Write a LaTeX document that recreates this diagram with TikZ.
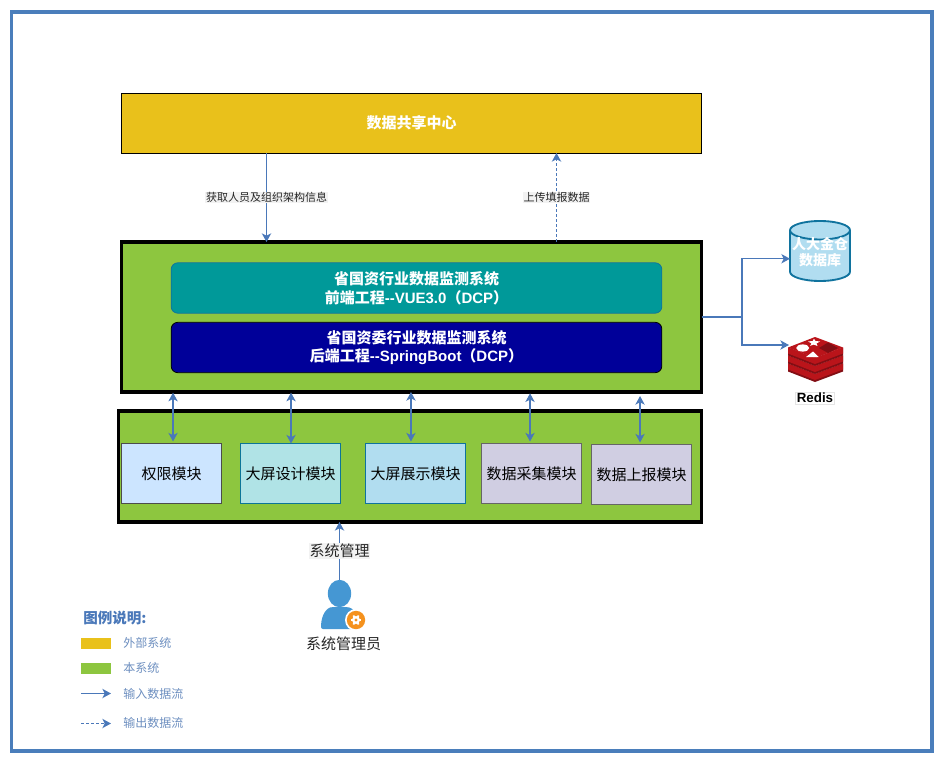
\documentclass[tikz,border=0pt]{standalone}
\usepackage{fontspec}
\setmainfont{Noto Sans CJK SC}
\newfontfamily\latinfont{Liberation Sans}
\usepackage{xcolor}
\usetikzlibrary{arrows.meta,positioning,shapes.geometric}
\definecolor{FrameBlue}{RGB}{74,126,187}
\definecolor{FlowBlue}{RGB}{74,120,185}
\definecolor{LegendBlue}{RGB}{108,142,191}
\definecolor{ExtYellow}{RGB}{233,193,27}
\definecolor{SysGreen}{RGB}{141,198,63}
\definecolor{FrontTeal}{RGB}{0,153,153}
\definecolor{BackNavy}{RGB}{0,0,153}
\definecolor{KeyBlue}{RGB}{16,115,158}
\definecolor{DbBlue}{RGB}{177,221,240}
\definecolor{PermBlue}{RGB}{204,229,255}
\definecolor{DesignCyan}{RGB}{176,227,230}
\definecolor{PurpleGray}{RGB}{208,206,226}
\definecolor{RedisRed}{RGB}{186,20,26}
\definecolor{RedisDark}{RGB}{130,14,20}
\definecolor{AdminBlue}{RGB}{69,151,211}
\definecolor{GearOrange}{RGB}{245,146,30}
\tikzset{
    sysbox/.style={draw=black,line width=2.4pt,fill=SysGreen,outer sep=0pt,minimum width=435pt},
    enginebox/.style={rounded corners=5pt,outer sep=0pt,minimum width=368pt,minimum height=37.8pt,align=center,text=white,font=\fontsize{11.25}{14}\selectfont\bfseries},
    modbox/.style={outer sep=0pt,minimum width=75pt,minimum height=45pt,font=\fontsize{11.25}{14}\selectfont},
    flowlabel/.style={fill=black!5,inner sep=0.6pt,font=\fontsize{8.25}{10}\selectfont,text=black!85},
    legendtext/.style={text=LegendBlue,inner sep=0pt,font=\fontsize{9}{11}\selectfont},
    swatch/.style={outer sep=0pt,minimum width=22.5pt,minimum height=8pt,inner sep=0pt},
    flow/.style={draw=FlowBlue,line width=0.9pt,-{Stealth[length=6.5pt,width=7pt,inset=1.8pt]}},
    biflow/.style={flow,{Stealth[length=6.5pt,width=7pt,inset=1.8pt]}-{Stealth[length=6.5pt,width=7pt,inset=1.8pt]}},
    outflow/.style={flow,dash pattern=on 2.2pt off 1.6pt}
}
\begin{document}
\begin{tikzpicture}[x=0.75pt,y=-0.75pt]
    \useasboundingbox (0,0) rectangle (943,763);
    \draw[FrameBlue,line width=2.3pt] (11.5,12) rectangle (932,751);

    \node[draw=black,line width=0.6pt,fill=ExtYellow,outer sep=0pt,minimum width=435pt,minimum height=45pt,text=white,font=\fontsize{11.25}{14}\selectfont\bfseries] (share) at (411.5,123) {数据共享中心};
    \node[sysbox,minimum height=112.5pt] (dcp) at (411.5,317) {};
    \node[enginebox,fill=FrontTeal,draw=KeyBlue,line width=0.6pt] (front) at (416.5,288) {省国资行业数据监测系统\\前端工程{\latinfont--VUE3.0}（{\latinfont DCP}）};
    \node[enginebox,fill=BackNavy,draw=black,line width=0.6pt] (back) at (416.5,347.5) {省国资委行业数据监测系统\\后端工程{\latinfont--SpringBoot}（{\latinfont DCP}）};

    \node[sysbox,minimum width=437.5pt,minimum height=83.25pt] (modules) at (410,466.5) {};
    \node[modbox,draw=black!70,fill=PermBlue] (perm) at (171.7,473.5) {权限模块};
    \node[modbox,draw=KeyBlue!80!teal,fill=DesignCyan] (design) at (290.5,473.5) {大屏设计模块};
    \node[modbox,draw=KeyBlue,fill=DbBlue] (screen) at (415.5,473.5) {大屏展示模块};
    \node[modbox,draw=black!60,fill=PurpleGray] (collect) at (531.5,473.5) {数据采集模块};
    \node[modbox,draw=black!60,fill=PurpleGray] (report) at (641.5,474.5) {数据上报模块};

    \coordinate (getx) at (266.5,0);
    \coordinate (upx) at (556.5,0);
    \draw[flow] (share.south -| getx) -- node[flowlabel] (getlabel) {获取人员及组织架构信息} (dcp.north -| getx);
    \draw[outflow] (dcp.north -| upx) -- node[flowlabel] (uplabel) {上传填报数据} (share.south -| upx);

    \draw[biflow] ([xshift=1pt,yshift=1.5pt]perm.north) -- ([xshift=1pt,yshift=-.5pt]perm.north |- dcp.south);
    \draw[biflow] ([xshift=.4pt]design.north) -- ([xshift=.4pt,yshift=-.5pt]design.north |- dcp.south);
    \draw[biflow] ([xshift=-3.4pt,yshift=1.5pt]screen.north) -- ([xshift=-3.4pt]screen.north |- dcp.south);
    \draw[biflow] ([xshift=-1.1pt,yshift=1.5pt]collect.north) -- ([xshift=-1.1pt,yshift=-1pt]collect.north |- dcp.south);
    \draw[biflow] ([xshift=-1.1pt,yshift=1.5pt]report.north) -- ([xshift=-1.1pt,yshift=-3pt]report.north |- dcp.south);

    % database and redis on the right
    \node[cylinder,shape border rotate=90,aspect=0.33,draw=KeyBlue,line width=1.4pt,fill=DbBlue,minimum width=45pt,minimum height=45pt,inner sep=0pt,outer sep=0pt,anchor=shape center,align=center,font=\fontsize{10.5}{12}\selectfont\bfseries] (kingbase) at (820,251) {\phantom{人大金仓}\\\phantom{数据库}};
    \node[align=center,inner sep=0pt,text=white,font=\fontsize{10.5}{12}\selectfont\bfseries] (kingbasetext) at (820,252) {人大金仓\\数据库};
    \coordinate (redis) at (789,345);
    \foreach \layer in {16,8,0}{
        \fill[RedisDark] (788,347.5+\layer) -- (815,358+\layer) -- (843,347.5+\layer) -- (843,355.5+\layer) -- (815,366+\layer) -- (788,355.5+\layer) -- cycle;
        \fill[RedisRed] (788,347.5+\layer) -- (815,358+\layer) -- (843,347.5+\layer) -- (843,353.5+\layer) -- (815,364+\layer) -- (788,353.5+\layer) -- cycle;
    }
    \fill[RedisRed] (815,337) -- (843,347.5) -- (815,358) -- (788,347.5) -- cycle;
    \fill[white] (802.7,348) ellipse (6.5 and 3.6);
    \fill[white] (814,338.8) -- (815.5,341) -- (820,341.5) -- (816.5,343.5) -- (817.5,346) -- (813.8,344.6) -- (810,345.8) -- (811.5,343.5) -- (808.2,341.5) -- (812.6,341) -- cycle;
    \fill[white] (813,351.5) -- (818.5,357) -- (806,357) -- cycle;
    \fill[RedisDark] (828,342.5) -- (838,348) -- (828,353) -- (819,348) -- cycle;
    \node[draw=black!10,line width=0.4pt,fill=white,inner sep=1pt,font=\latinfont\fontsize{10}{12}\selectfont\bfseries] (redislabel) at (815,398) {Redis};
    \coordinate (branch) at (742,317);
    \draw[flow] (dcp.east) -- (branch) |- ([yshift=-2pt]kingbase.west);
    \draw[flow] (branch) |- (redis);

    % system admin icon
    \node[ellipse,fill=AdminBlue,minimum width=17.5pt,minimum height=20.5pt,inner sep=0pt,outer sep=0pt] (adminhead) at (339.5,593.5) {};
    \fill[AdminBlue,rounded corners=1.5pt] (321,629) .. controls (321,613) and (328,608) .. (332,607) -- (347,607) .. controls (352,608) and (358,612) .. (358,629) -- cycle;
    \node[circle,fill=white,minimum size=16.5pt,inner sep=0pt] (gearring) at (356,620) {};
    \node[circle,fill=GearOrange,minimum size=13.8pt,inner sep=0pt] (gear) at (356,620) {};
    \foreach \tooth in {0,60,...,300}{
        \draw[white,line width=1.3pt] (gear.center) -- ++(\tooth:5.2);
    }
    \node[circle,fill=white,minimum size=6pt,inner sep=0pt] (geardisc) at (gear.center) {};
    \node[circle,fill=GearOrange,minimum size=2.4pt,inner sep=0pt] (gearhole) at (gear.center) {};
    \node[font=\fontsize{11.25}{14}\selectfont,inner sep=0pt,text=black!85] (admintext) at (343.5,644) {系统管理员};
    \draw[flow] (adminhead.north) -- node[fill=black!5,inner sep=0.6pt,font=\fontsize{11.25}{14}\selectfont,text=black!85] (mgmtlabel) {系统管理} (adminhead.north |- modules.south);

    % legend
    \node[anchor=west,inner sep=0pt,text=FlowBlue,font=\fontsize{10.9}{12}\selectfont\bfseries] (legendtitle) at (83,618) {图例说明:};
    \node[swatch,fill=ExtYellow] (extswatch) at (96,643.5) {};
    \node[swatch,fill=SysGreen] (sysswatch) at (96,668.5) {};
    \node[legendtext,anchor=west] (exttext) at (123,643) {外部系统};
    \node[legendtext,anchor=west] (systext) at (123,668) {本系统};
    \coordinate (infrom) at (81,693.5);
    \coordinate (into) at (111,693.5);
    \coordinate (outfrom) at (81,723.5);
    \coordinate (outto) at (111,723.5);
    \draw[flow] (infrom) -- (into);
    \draw[outflow] (outfrom) -- (outto);
    \node[legendtext,anchor=west] (intext) at (123,694) {输入数据流};
    \node[legendtext,anchor=west] (outtext) at (123,723) {输出数据流};
\end{tikzpicture}
\end{document}
